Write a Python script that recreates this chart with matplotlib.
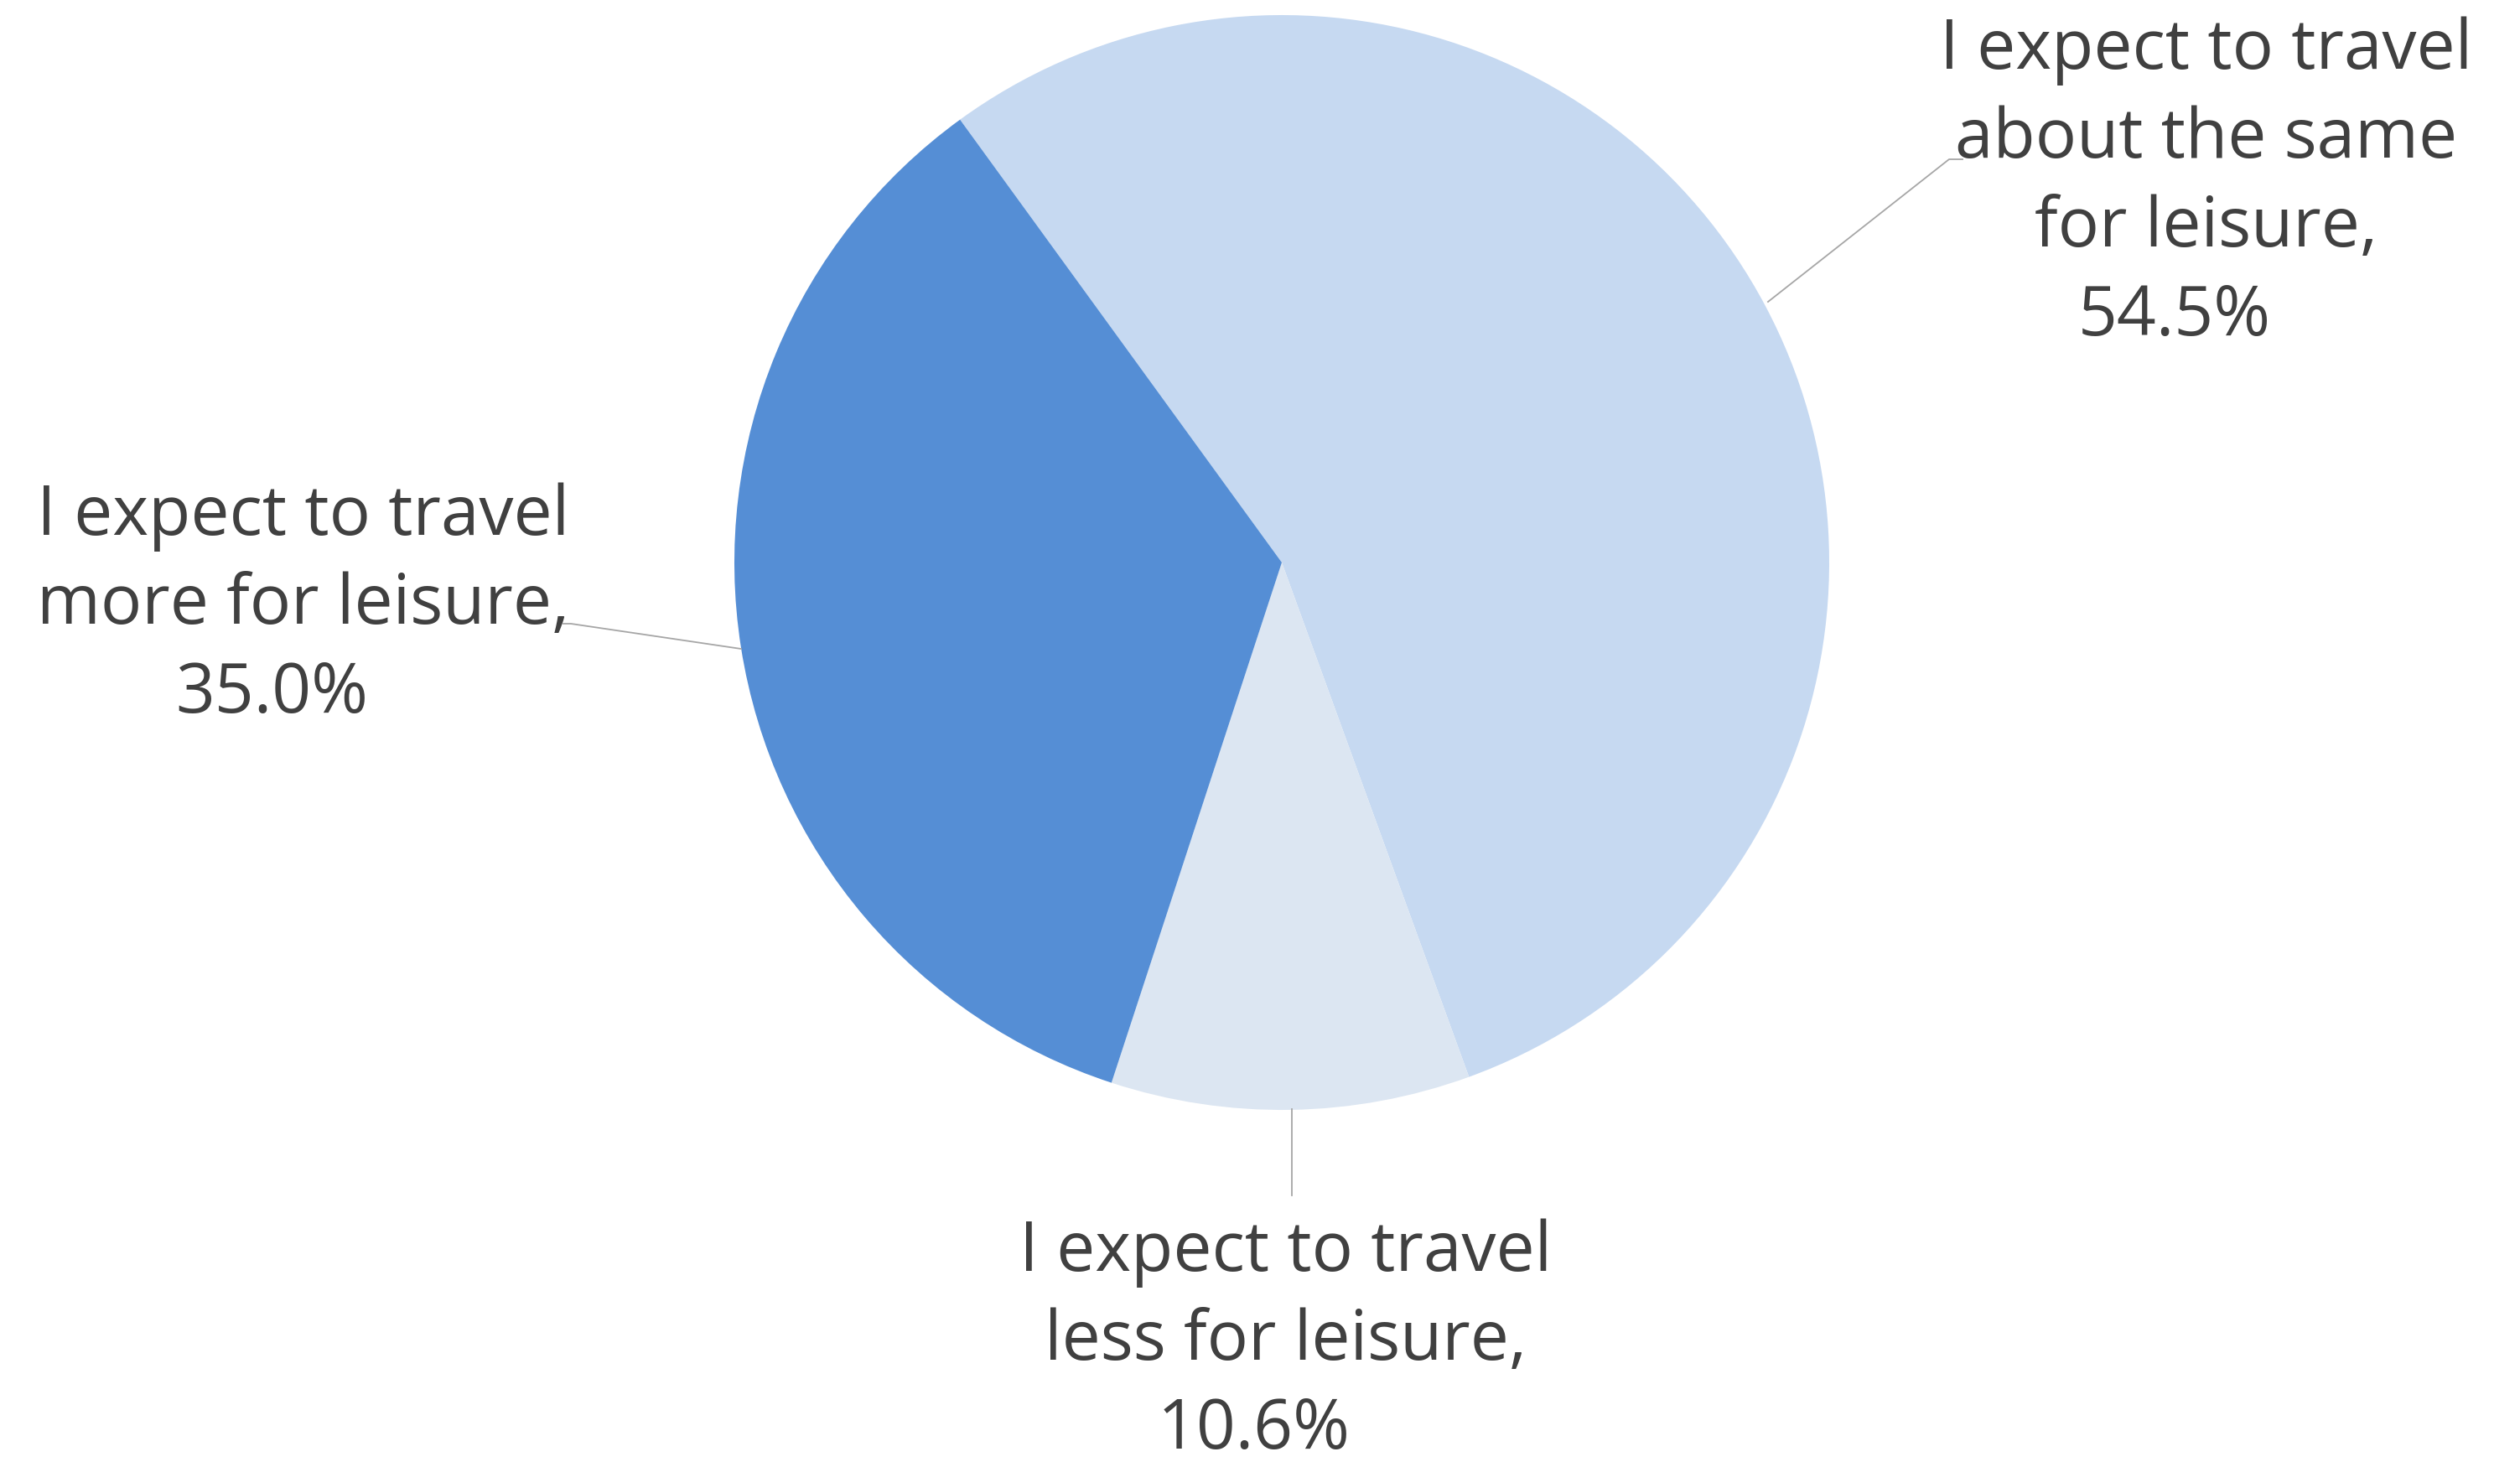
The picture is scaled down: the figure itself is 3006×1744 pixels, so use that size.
import matplotlib
matplotlib.use("Agg")
import matplotlib.pyplot as plt

# Survey answers and their shares (%)
categories = [
    "I expect to travel\nabout the same\nfor leisure",
    "I expect to travel\nless for leisure",
    "I expect to travel\nmore for leisure",
]
shares = [54.5, 10.6, 35.0]
colors = ["#C6D9F1", "#DCE6F2", "#558ED5"]

W, H = 3006, 1744
fig = plt.figure(figsize=(W / 100, H / 100), dpi=100)
ax = fig.add_axes([0, 0, 1, 1])

cx, cy, r = 1529, H - 671, 653
ax.pie(shares, colors=colors, startangle=126, counterclock=False,
       center=(cx, cy), radius=r, frame=True,
       wedgeprops=dict(linewidth=0))
ax.set_xlim(0, W)
ax.set_ylim(0, H)
ax.set_aspect("equal")
ax.axis("off")

text_color = "#404040"
font = dict(family=["Open Sans", "DejaVu Sans"], fontsize=59, color=text_color)

# label block anchors: (x centre, y of first line) in pixels from top-left
anchors = [(2632, 61), (1534, 1495), (362, 617)]
line_gap = 106
pct_shift = -38

for cat, val, (ax_x, ax_y) in zip(categories, shares, anchors):
    lines = (cat + ",").split("\n")
    for i, ln in enumerate(lines):
        ax.text(ax_x, H - (ax_y + i * line_gap), ln, ha="center", va="center", **font)
    ax.text(ax_x + pct_shift, H - (ax_y + len(lines) * line_gap), f"{val:.1f}%",
            ha="center", va="center", **font)

# leader lines
lc = "#A6A6A6"
lw = 1.3
ax.plot([2109, 2325, 2341], [H - 360, H - 190, H - 190], color=lc, lw=lw)
ax.plot([884, 681, 672], [H - 774, H - 744, H - 744], color=lc, lw=lw)
ax.plot([1541, 1541], [H - 1323, H - 1426], color=lc, lw=lw)

fig.savefig("out.png", dpi=100, facecolor="white")
